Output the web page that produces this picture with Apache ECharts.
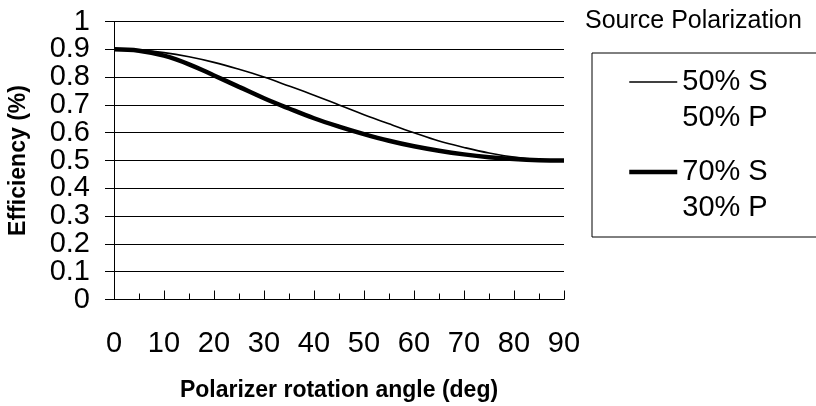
<!DOCTYPE html>
<html>
<head>
<meta charset="utf-8">
<script src="https://cdn.jsdelivr.net/npm/echarts@6/dist/echarts.min.js"></script>
<style>
  html, body { margin: 0; padding: 0; background: #fff; }
  #chart { width: 816px; height: 406px; }
</style>
</head>
<body>
<div id="chart"></div>
<script>
// Polarizer rotation angle (deg)
var angles = [0, 5, 10, 15, 20, 25, 30, 35, 40, 45, 50, 55, 60, 65, 70, 75, 80, 85, 90];
// Efficiency, source 50% S / 50% P (thin line)
var eff5050 = [0.900, 0.897, 0.888, 0.873, 0.853, 0.828, 0.800, 0.768, 0.735, 0.700, 0.665, 0.632, 0.600, 0.570, 0.547, 0.527, 0.512, 0.503, 0.500];
// Efficiency, source 70% S / 30% P (thick line)
var eff7030 = [0.900, 0.895, 0.877, 0.846, 0.806, 0.765, 0.724, 0.687, 0.652, 0.622, 0.595, 0.571, 0.551, 0.535, 0.522, 0.512, 0.505, 0.501, 0.500];
// Efficiency tick labels next to the min / max tick (drawn by a second, label-only axis)
var yEdgeNeighbourTicks = [0.1, 0.9];
var seriesNames = ['50% S\n50% P', '70% S\n30% P'];
var legendTitle = 'Source Polarization';
var xAxisName = 'Polarizer rotation angle (deg)';
var yAxisName = 'Efficiency (%)';

function pairs(xs, ys) {
  return xs.map(function (x, i) { return [x, ys[i]]; });
}
function isEdgeNeighbour(v) {
  return yEdgeNeighbourTicks.some(function (t) { return Math.abs(t - v) < 1e-9; });
}

var FONT = "'Liberation Sans', Arial, Helvetica, sans-serif";
var THIN = 1.6, THICK = 4.5;
var chart = echarts.init(document.getElementById('chart'), null, { renderer: 'canvas' });

var yLabelStyle = { fontFamily: FONT, fontSize: 29, color: '#000', margin: 24, showMinLabel: true, showMaxLabel: true, hideOverlap: false };

chart.setOption({
  animation: false,
  backgroundColor: '#fff',
  textStyle: { fontFamily: FONT, color: '#000' },
  title: {
    text: legendTitle,
    left: 585,
    top: 9,
    padding: 0,
    textStyle: { fontFamily: FONT, fontSize: 25, fontWeight: 'normal', color: '#000' }
  },
  legend: {
    orient: 'vertical',
    left: 592,
    top: 53,
    padding: [-25, 50, 11, 35],
    itemGap: -18,
    itemWidth: 48,
    itemHeight: 2,
    borderColor: '#000',
    borderWidth: 1,
    selectedMode: false,
    itemStyle: { opacity: 0 },
    formatter: function (name) { return ' \n' + name; },
    textStyle: { fontFamily: FONT, fontSize: 29, lineHeight: 36, color: '#000' },
    data: [
      { name: seriesNames[0], lineStyle: { width: THIN, color: '#000' } },
      { name: seriesNames[1], lineStyle: { width: THICK, color: '#000' } }
    ]
  },
  grid: {
    left: 114,
    right: 252,
    top: 21.5,
    bottom: 106.5,
    containLabel: false,
    outerBoundsMode: 'none'
  },
  xAxis: {
    type: 'value',
    min: 0,
    max: 90,
    interval: 10,
    name: xAxisName,
    nameLocation: 'middle',
    nameGap: 80,
    nameTextStyle: { fontFamily: FONT, fontSize: 23, fontWeight: 'bold', color: '#000' },
    axisLine: { show: true, lineStyle: { color: '#000', width: 1 } },
    axisTick: { show: true, inside: true, length: 9, lineStyle: { color: '#000', width: 1 } },
    minorTick: { show: true, splitNumber: 2, length: 6, lineStyle: { color: '#000', width: 1 } },
    minorSplitLine: { show: false },
    splitLine: { show: false },
    axisLabel: { fontFamily: FONT, fontSize: 29, lineHeight: 24, color: '#000', margin: 32, showMinLabel: true, showMaxLabel: true, hideOverlap: false }
  },
  yAxis: [
    {
      type: 'value',
      position: 'left',
      min: 0,
      max: 1,
      interval: 0.1,
      name: yAxisName,
      nameLocation: 'middle',
      nameGap: 84,
      nameTextStyle: { fontFamily: FONT, fontSize: 23, fontWeight: 'bold', color: '#000' },
      axisLine: { show: true, lineStyle: { color: '#000', width: 1 } },
      axisTick: { show: true, inside: false, length: 9, lineStyle: { color: '#000', width: 1 } },
      splitLine: { show: true, lineStyle: { color: '#000', width: 1 } },
      axisLabel: Object.assign({}, yLabelStyle, {
        formatter: function (v) { return isEdgeNeighbour(v) ? '' : String(v); }
      })
    },
    {
      type: 'value',
      position: 'left',
      offset: 0,
      min: 0,
      max: 1,
      interval: 0.1,
      axisLine: { show: false },
      axisTick: { show: false },
      splitLine: { show: false },
      axisLabel: Object.assign({}, yLabelStyle, {
        formatter: function (v) { return isEdgeNeighbour(v) ? String(v) : ''; }
      })
    }
  ],
  series: [
    {
      name: seriesNames[0],
      type: 'line',
      yAxisIndex: 0,
      data: pairs(angles, eff5050),
      smooth: 0.4,
      symbol: 'none',
      lineStyle: { color: '#000', width: THIN },
      itemStyle: { color: '#000' },
      emphasis: { disabled: true },
      z: 3
    },
    {
      name: seriesNames[1],
      type: 'line',
      yAxisIndex: 0,
      data: pairs(angles, eff7030),
      smooth: 0.4,
      symbol: 'none',
      lineStyle: { color: '#000', width: THICK },
      itemStyle: { color: '#000' },
      emphasis: { disabled: true },
      z: 2
    }
  ]
});
</script>
</body>
</html>
